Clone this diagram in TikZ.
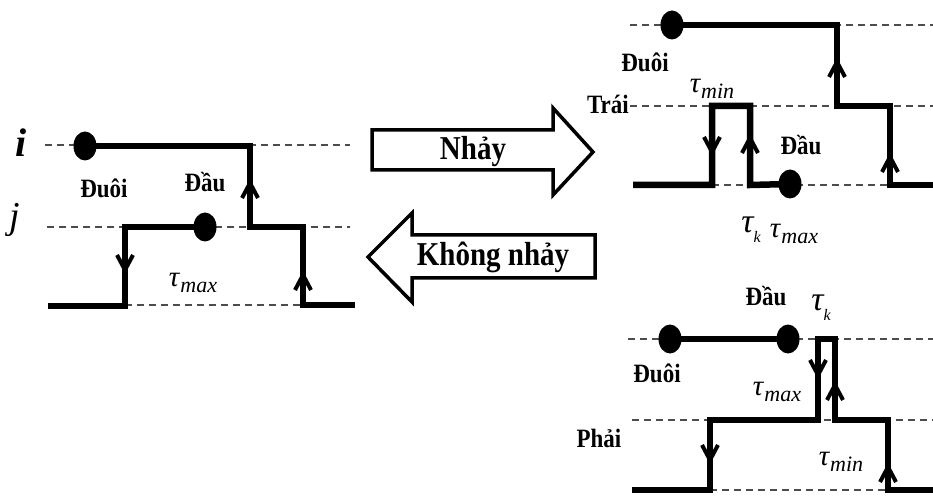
\documentclass[tikz,border=0pt]{standalone}
\usepackage{fontspec}
\setmainfont{Liberation Serif}
\usepackage{graphicx}
\usetikzlibrary{shapes.geometric}
% tau with an italic subscript, set in the text face
\newcommand{\tmx}[1]{{\fontsize{29}{29}\selectfont\itshape τ}\kern1pt\raisebox{-6pt}{\fontsize{22}{22}\selectfont\itshape #1}}
\newcommand{\tk}{{\fontsize{34}{34}\selectfont\itshape τ}\raisebox{-10pt}{\fontsize{16}{16}\selectfont\itshape k}}
\newcommand{\vstr}[1]{\scalebox{1}[1.15]{#1}}
\begin{document}
\begin{tikzpicture}[x=1pt,y=-1pt,
  level/.style={draw=black!70, line width=1.9pt, dash pattern=on 7pt off 5pt},
  wave/.style={draw=black, line width=6.5pt, line join=miter},
  lbl/.style={font=\fontsize{23}{23}\selectfont\bfseries, inner sep=0pt},
  big/.style={font=\fontsize{29}{29}\selectfont\bfseries, inner sep=0pt},
  tau/.style={inner sep=0pt},
  dot/.style={ellipse, fill=black, minimum width=23pt, minimum height=29pt, inner sep=0pt},
  fatarrow/.style={draw=black, line width=3.5pt, fill=white, line join=miter},
  upchev/.pic={\draw[line width=4pt] (-8,15) -- (0,0) -- (8,15);},
  downchev/.pic={\draw[line width=4pt] (-8,-15) -- (0,0) -- (8,-15);}
]
\useasboundingbox (0,0) rectangle (933,502);

% ---------- left panel: channels i and j ----------
\node[font=\fontsize{40}{40}\selectfont\bfseries\itshape, inner sep=0pt] (li) at (21,143) {i};
\node[font=\fontsize{38}{38}\selectfont\itshape, inner sep=0pt] (lj) at (15,220) {j};
\coordinate (iL) at (45,145);  \coordinate (iR) at (350,145);
\coordinate (jL) at (47,227);  \coordinate (jR) at (350,227);
\coordinate (bL) at (125,305); \coordinate (bR) at (303,305);
\draw[level] (iL) -- (iR);
\draw[level] (jL) -- (jR);
\draw[level] (bL) -- (bR);

\node[dot] (tailL) at (85,146) {};
\node[dot] (headL) at (205,227) {};
\coordinate (aEnd) at (355,305);
\coordinate (bStart) at (48,306);
\draw[wave] (tailL.center) -- (250,146) -- (250,227) -- (303,227) -- (303,305) -- (aEnd);
\draw[wave] (bStart) -- (125,306) -- (125,227) -- (headL.center);
\pic at (250,183) {upchev};
\pic at (303,275) {upchev};
\pic at (125,270) {downchev};

\node[lbl] (duoiL) at (104,188) {\vstr{Đuôi}};
\node[lbl] (dauL) at (205,182) {\vstr{Đầu}};
\node[tau] (tmaxL) at (193,283) {\tmx{max}};

% ---------- middle: block arrows ----------
\draw[fatarrow] (372,130) -- (553,130) -- (553,108) -- (593,152) -- (553,195)
  -- (553,170) -- (372,170) -- cycle;
\node[big] (nhay) at (473,152) {\vstr{Nhảy}};
\draw[fatarrow] (595,235) -- (412,235) -- (412,213) -- (368,257) -- (412,302)
  -- (412,278) -- (595,278) -- cycle;
\node[big] (khong) at (493,257) {\vstr{Không nhảy}};

% ---------- right top: jump to the left ----------
\coordinate (t1L) at (630,25);  \coordinate (t1R) at (933,25);
\coordinate (t2L) at (630,106); \coordinate (t2R) at (933,106);
\coordinate (t3L) at (712,185); \coordinate (t3R) at (933,185);
\draw[level] (t1L) -- (t1R);
\draw[level] (t2L) -- (t2R);
\draw[level] (t3L) -- (t3R);
\node[dot] (tailT) at (672,25) {};
\node[dot] (headT) at (790,184) {};
\coordinate (cEnd) at (933,185);
\coordinate (dStart) at (633,185);
\draw[wave] (tailT.center) -- (837,25) -- (837,106) -- (890,106) -- (890,185) -- (cEnd);
\draw[wave] (dStart) -- (712,185) -- (712,106) -- (750,106) -- (750,185) -- (headT.center);
\pic at (837,62) {upchev};
\pic at (890,157) {upchev};
\pic at (712,152) {downchev};
\pic at (750,138) {upchev};

\node[lbl] (duoiT) at (645,62) {\vstr{Đuôi}};
\node[lbl, anchor=east] (trai) at (629,104) {\vstr{Trái}};
\node[tau] (tminT) at (712,89) {\tmx{min}};
\node[lbl] (dauT) at (801,145) {\vstr{Đầu}};
\node[tau] (tkT) at (751,230) {\tk};
\node[tau] (tmaxT) at (794,234) {\tmx{max}};

% ---------- right bottom: jump to the right ----------
\coordinate (r1L) at (628,339); \coordinate (r1R) at (933,339);
\coordinate (r2L) at (632,420); \coordinate (r2R) at (933,420);
\coordinate (r3L) at (710,490); \coordinate (r3R) at (888,490);
\draw[level] (r1L) -- (r1R);
\draw[level] (r2L) -- (r2R);
\draw[level] (r3L) -- (r3R);
\node[dot] (tailB) at (670,339) {};
\node[dot] (headB) at (788,339) {};
\draw[wave] (tailB.center) -- (headB.center);
\coordinate (eStart) at (632,490);
\coordinate (eEnd) at (933,490);
\draw[wave] (eStart) -- (710,490) -- (710,420) -- (818,420) -- (818,339) -- (835,339)
  -- (835,420) -- (888,420) -- (888,490) -- (eEnd);
\pic at (710,460) {downchev};
\pic at (818,375) {downchev};
\pic at (835,385) {upchev};
\pic at (888,467) {upchev};

\node[lbl] (dauB) at (766,296) {\vstr{Đầu}};
\node[tau] (tkB) at (821,308) {\tk};
\node[lbl] (duoiB) at (657,373) {\vstr{Đuôi}};
\node[tau] (tmaxB) at (777,392) {\tmx{max}};
\node[lbl] (phai) at (599,438) {\vstr{Phải}};
\node[tau] (tminB) at (841,462) {\tmx{min}};
\end{tikzpicture}
\end{document}
